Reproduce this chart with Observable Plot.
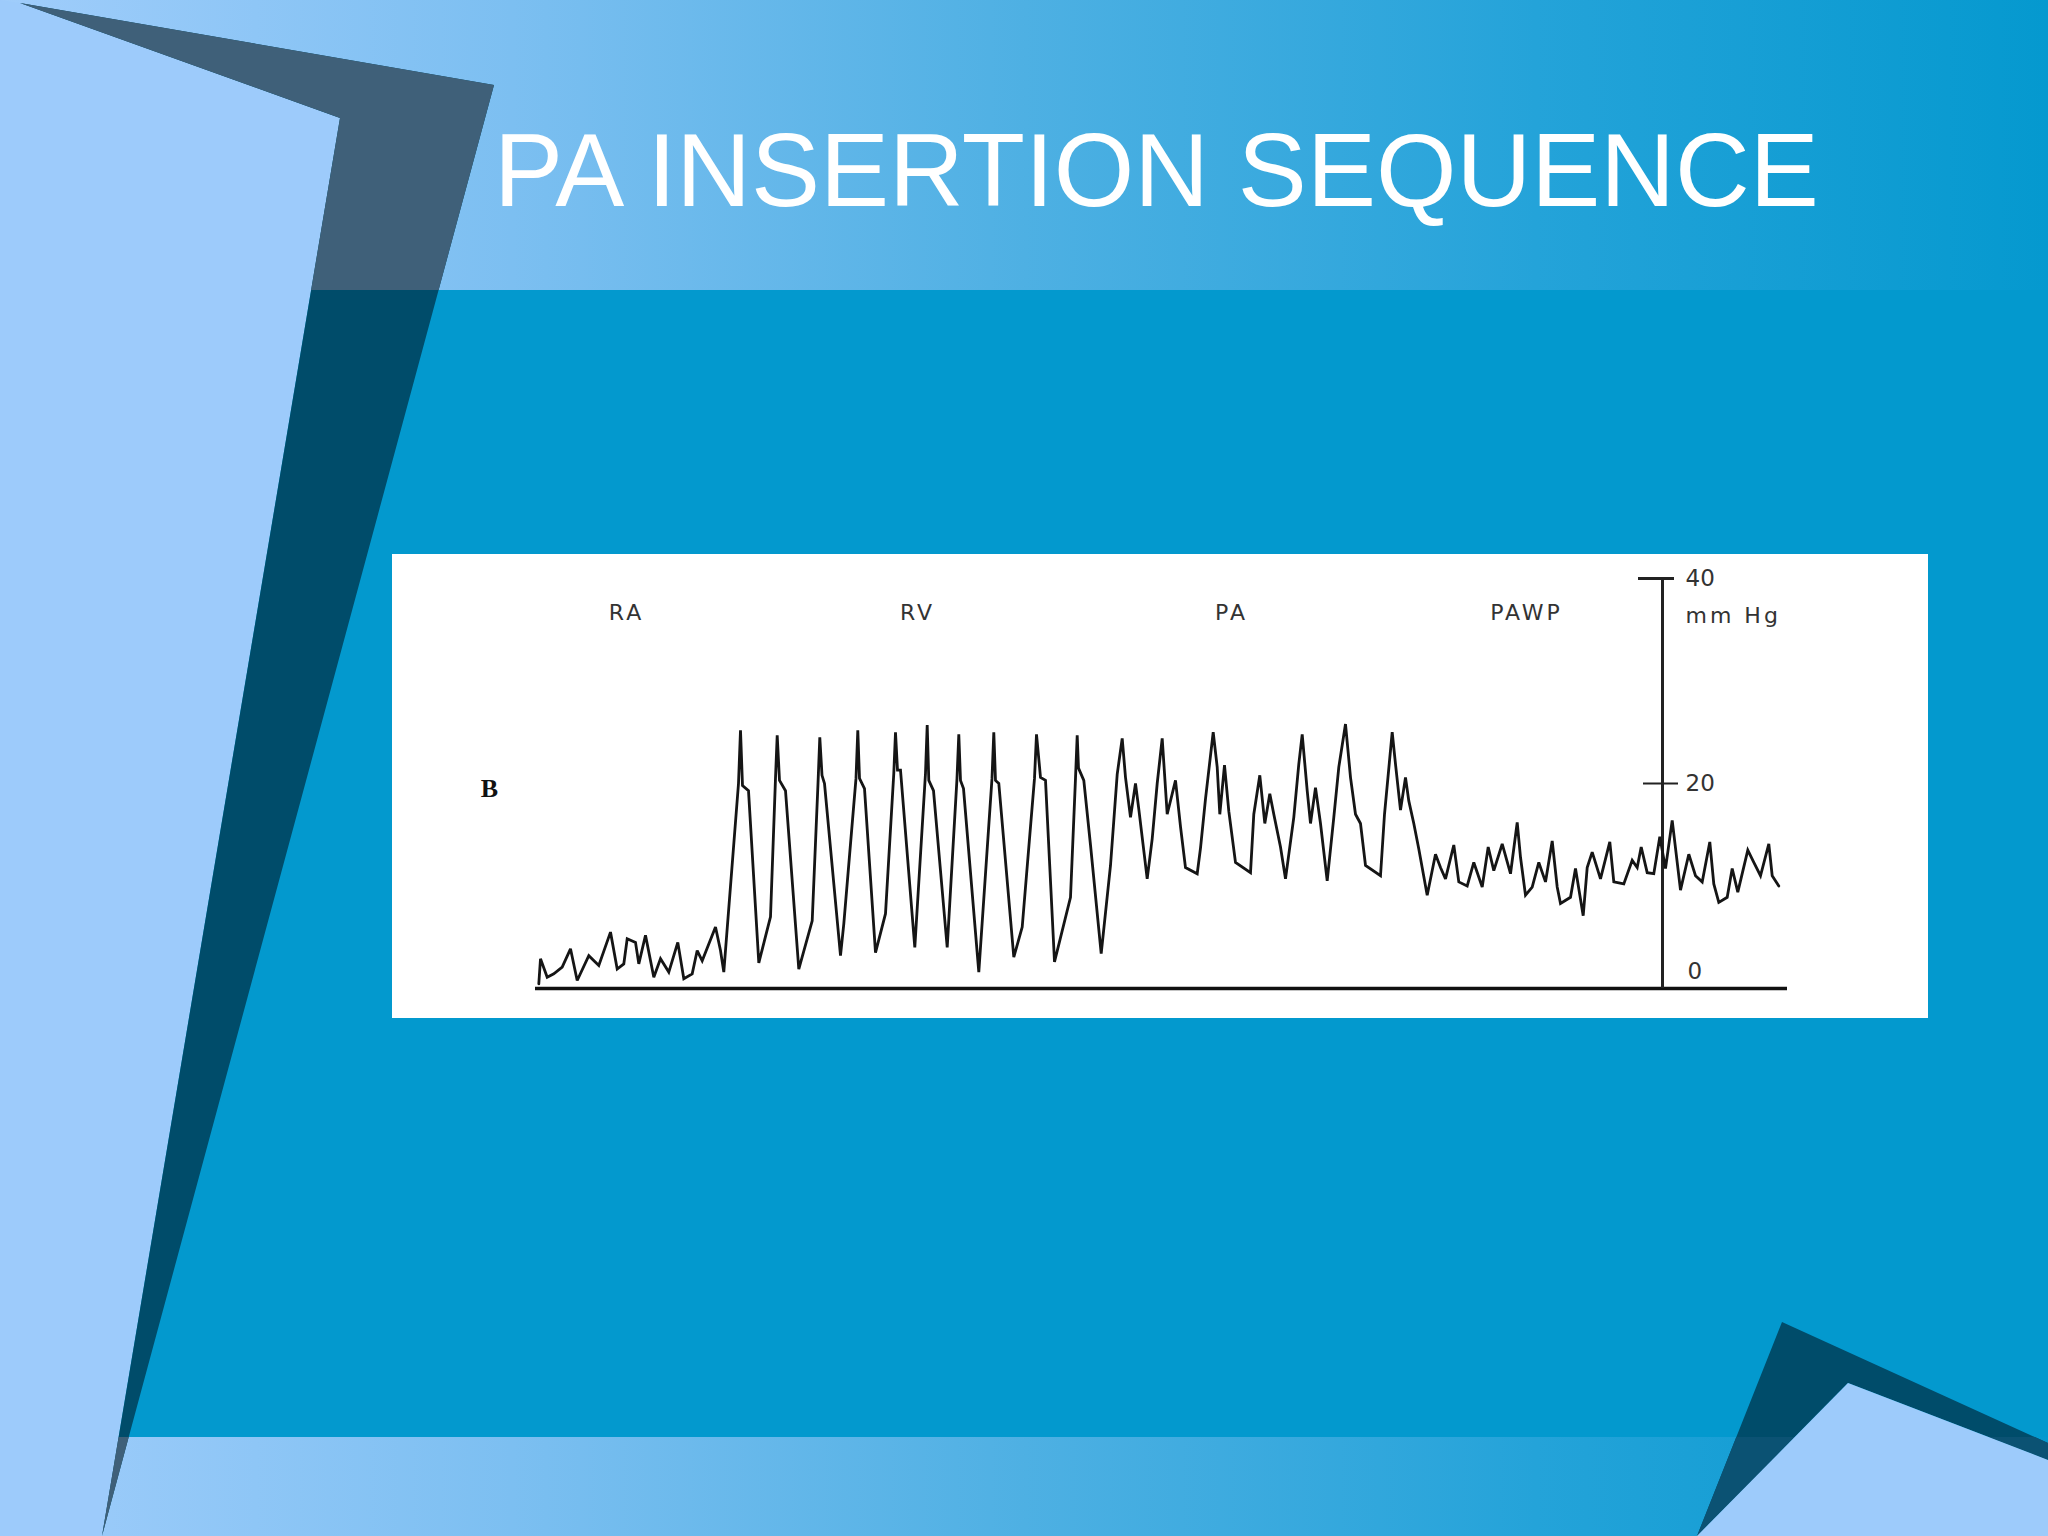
<!DOCTYPE html>
<html>
<head>
<meta charset="utf-8">
<script src="https://cdn.jsdelivr.net/npm/d3@7"></script>
<script src="https://cdn.jsdelivr.net/npm/@observablehq/plot@0.6"></script>
<style>
  html, body { margin: 0; padding: 0; }
  body { width: 2048px; height: 1536px; overflow: hidden; position: relative; background: #0399ce; }
  #bg { position: absolute; left: 0; top: 0; }
  #title { position: absolute; left: 494px; top: 119px; font-family: "Liberation Sans", Arial, sans-serif;
           font-size: 103.5px; line-height: 1; color: #ffffff; white-space: nowrap; }
  #chart { position: absolute; left: 392px; top: 554px; }
</style>
</head>
<body>
<svg id="bg" width="2048" height="1536" xmlns="http://www.w3.org/2000/svg">
  <defs>
    <linearGradient id="bandg" x1="0" x2="1" y1="0" y2="0">
      <stop offset="0" stop-color="#a0cdfb"/>
      <stop offset="0.25" stop-color="#7cbff1"/>
      <stop offset="0.5" stop-color="#4eb0e3"/>
      <stop offset="0.75" stop-color="#24a3d9"/>
      <stop offset="1" stop-color="#0599cf"/>
    </linearGradient>
    <clipPath id="topclip"><rect x="0" y="0" width="2048" height="290"/></clipPath>
    <clipPath id="botclip"><rect x="0" y="1437" width="2048" height="99"/></clipPath>
  </defs>
  <rect x="0" y="0" width="2048" height="1536" fill="#0399ce"/>
  <rect x="0" y="0" width="2048" height="290" fill="url(#bandg)"/>
  <rect x="0" y="1437" width="2048" height="99" fill="url(#bandg)"/>
  <polygon points="0,0 20,3 340,118 102,1536 0,1536" fill="#9dcbfb"/>
  <polygon points="20,3 494,85 102,1536 340,118" fill="#004c6a"/>
  <polygon points="20,3 494,85 102,1536 340,118" fill="#3f6079" clip-path="url(#topclip)"/>
  <polygon points="20,3 494,85 102,1536 340,118" fill="#3f6079" clip-path="url(#botclip)"/>
  <polygon points="1697,1536 1782,1322 2048,1443 2048,1460 1848,1383" fill="#004c6a"/>
  <polygon points="1697,1536 1782,1322 2048,1443 2048,1460 1848,1383" fill="#0b5273" clip-path="url(#botclip)"/>
  <polygon points="1697,1536 1848,1383 2048,1460 2048,1536" fill="#9dcbfb"/>
</svg>
<div id="title">PA INSERTION SEQUENCE</div>
<div id="chart"></div>
<script>
// Time (s) and pressure (mm Hg)
const time = [
  0.033,0.05,0.117,0.183,0.267,0.35,0.417,0.533,0.633,0.75,0.817,0.883,0.917,1.0,1.033,1.1,1.183,1.25,1.333,1.423,1.483,1.567,1.617,1.667,1.8,1.85,1.883,
  2.03,2.05,2.07,2.13,2.233,2.35,2.40,2.417,2.44,2.50,2.633,2.767,2.825,2.843,2.865,2.89,3.05,3.083,3.205,3.223,3.24,3.29,3.40,3.50,
  3.583,3.60,3.62,3.65,3.793,3.90,3.917,3.933,3.98,4.117,4.215,4.233,4.25,4.28,4.433,4.565,4.583,4.60,4.633,4.783,4.867,
  4.99,5.01,5.05,5.10,5.19,5.35,5.40,5.417,5.43,5.483,5.55,5.657,
  5.75,5.817,5.867,5.90,5.95,6.00,6.033,6.117,6.167,6.217,6.267,6.317,6.40,6.45,6.50,6.617,6.65,6.70,6.777,6.817,6.843,6.89,6.933,
  7.00,7.15,7.183,7.243,7.293,7.343,7.383,7.45,7.50,7.583,7.633,7.667,7.717,7.75,7.80,7.85,7.917,7.983,8.033,8.10,8.15,8.20,8.25,
  8.30,8.45,8.49,8.567,8.60,8.65,8.70,8.733,8.783,8.833,
  8.917,9.00,9.05,9.10,9.183,9.233,9.317,9.383,9.467,9.527,9.583,9.667,9.75,9.817,9.85,9.90,9.967,10.033,10.10,10.167,10.217,10.25,
  10.35,10.40,10.477,10.517,10.567,10.65,10.743,10.783,10.883,10.967,11.017,11.057,11.117,11.183,11.243,11.30,11.367,11.417,11.45,
  11.533,11.60,11.667,11.743,11.783,11.833,11.917,11.967,12.023,12.123,12.183,12.25,12.333,12.367,12.433
];
const pressure = [
  0.46,2.9,1.1,1.43,2.08,3.87,0.78,3.2,2.24,5.5,1.9,2.4,4.85,4.5,2.4,5.2,1.1,2.9,1.6,4.5,0.95,1.43,3.7,2.7,6.0,3.7,1.6,
  20,25.2,19.8,19.3,2.5,7.0,20.5,24.7,20.3,19.3,1.9,6.6,20,24.5,20.8,20.0,3.2,6.3,20.5,25.2,20.5,19.5,3.5,7.3,
  21,25.0,21.3,21.3,4.0,21,25.7,20.3,19.3,4.0,20.5,24.8,20.3,19.5,1.6,20.5,25.0,20.3,20.0,3.05,6.0,
  20.5,24.8,20.6,20.3,2.6,8.9,20.5,24.7,21.5,20.3,14,3.4,
  12,20.9,24.4,20.6,16.7,20.0,17.5,10.7,14.6,20.0,24.4,17.0,20.3,15.8,11.8,11.2,13.7,18.5,25.0,21.6,17.0,21.8,17.3,
  12.3,11.3,17.0,20.8,16.1,19.0,17.0,13.8,10.7,16.7,21.9,24.8,19.3,16.1,19.6,16.1,10.5,16.7,21.6,25.8,20.6,17.0,16.1,
  12.0,11.0,17.0,25.0,21.9,17.4,20.6,18.3,16.1,13.6,
  9.1,13.1,11.8,10.7,14.0,10.4,10.0,12.3,9.9,13.8,11.5,14.1,11.2,16.2,12.8,9.1,9.9,12.3,10.4,14.4,9.9,8.3,
  8.9,11.7,7.1,11.8,13.3,10.7,14.3,10.4,10.2,12.5,11.8,13.8,11.3,11.2,14.8,11.7,16.4,12.3,9.6,
  13.1,11.0,10.4,14.3,10.2,8.4,8.9,11.7,9.4,13.5,12.3,11.0,14.1,11.0,10.0
];

// Chamber labels
const regionNames = ["RA", "RV", "PA", "PAWP"];
const regionTime = [0.91, 3.82, 6.96, 9.91];
const regionY = 36.6;

// Pressure scale bar
const scaleTime = 11.27;
const scaleTicks = [40, 20];
const scaleLabels = ["40", "20", "0"];
const scaleLabelValues = [40, 20, 0];
const unitLabel = "mm Hg";
const panelLabel = "B";

const trace = time.map((t, i) => ({t, p: pressure[i]}));
const sans = "DejaVu Sans, Verdana, sans-serif";

const chart = Plot.plot({
  width: 1536,
  height: 464,
  marginLeft: 143,
  marginRight: 141,
  marginTop: 24,
  marginBottom: 30,
  x: {domain: [0, 12.52], axis: null},
  y: {domain: [0, 40], axis: null},
  style: {background: "#ffffff", overflow: "visible", fontFamily: sans},
  marks: [
    Plot.ruleY([0], {x1: 0, x2: 12.52, stroke: "#111", strokeWidth: 3.5}),
    Plot.ruleX([scaleTime], {y1: 0, y2: 40, stroke: "#222", strokeWidth: 3}),
    Plot.ruleY([scaleTicks[0]], {x1: scaleTime - 0.24, x2: scaleTime + 0.12, stroke: "#222", strokeWidth: 3}),
    Plot.ruleY([scaleTicks[1]], {x1: scaleTime - 0.19, x2: scaleTime + 0.16, stroke: "#222", strokeWidth: 2}),
    Plot.line(trace, {x: "t", y: "p", stroke: "#151515", strokeWidth: 2.8, strokeLinejoin: "miter", strokeMiterlimit: 3}),
    Plot.text(regionNames, {x: (d, i) => regionTime[i], y: regionY, text: d => d, fontSize: 22, fill: "#333",
      fontFamily: sans, textAnchor: "middle", lineAnchor: "middle"}),
    Plot.text(scaleLabels.slice(0, 2), {x: scaleTime, y: (d, i) => scaleLabelValues[i], text: d => d, dx: 23,
      fontSize: 23, fill: "#333", fontFamily: sans, textAnchor: "start", lineAnchor: "middle"}),
    Plot.text([scaleLabels[2]], {x: scaleTime, y: scaleLabelValues[2], text: d => d, dx: 25, dy: -17,
      fontSize: 23, fill: "#333", fontFamily: sans, textAnchor: "start", lineAnchor: "middle"}),
    Plot.text([unitLabel], {x: scaleTime, y: 40, text: d => d, dx: 23, dy: 37,
      fontSize: 22, fill: "#333", fontFamily: sans, textAnchor: "start", lineAnchor: "middle"}),
    Plot.text([panelLabel], {x: 0, y: 19.5, text: d => d, dx: -46, fontSize: 26, fontWeight: "bold",
      fontFamily: "Liberation Serif, serif", fill: "#111", textAnchor: "middle", lineAnchor: "middle"})
  ]
});
// widen the lettering of the scanned labels
d3.select(chart).selectAll("text")
  .filter(function() { return regionNames.includes(this.textContent) || this.textContent === unitLabel; })
  .style("letter-spacing", "3px");
document.getElementById("chart").appendChild(chart);
</script>
</body>
</html>
